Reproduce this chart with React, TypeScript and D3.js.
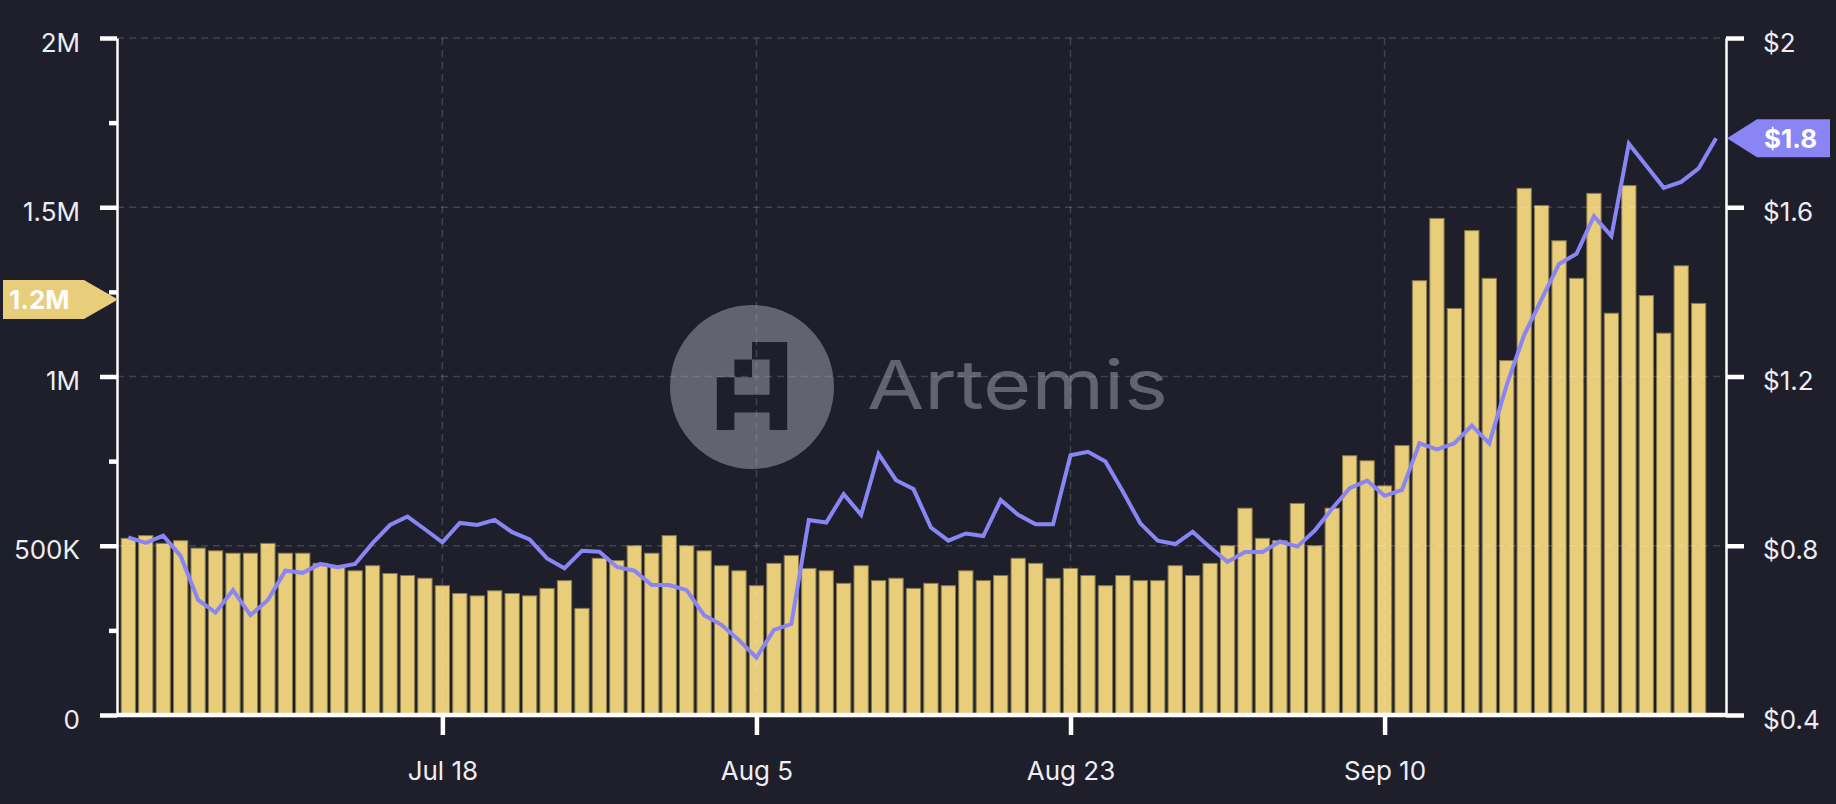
import * as d3 from "d3";
import { useEffect, useRef } from "react";

const START_DATE = "2024-06-30";

// daily volume, Jun 30 - Sep 28
const volume = [
  522000, 530000, 507000, 515000, 493000, 485000, 478000, 478000, 507000, 478000,
  478000, 448000, 441000, 426000, 441000, 418000, 412000, 404000, 382000, 359000,
  352000, 367000, 359000, 352000, 374000, 397000, 315000, 463000, 456000, 500000,
  478000, 530000, 500000, 485000, 441000, 426000, 382000, 448000, 471000, 433000,
  426000, 389000, 441000, 397000, 404000, 374000, 389000, 382000, 426000, 397000,
  412000, 463000, 448000, 404000, 433000, 412000, 382000, 412000, 397000, 397000,
  441000, 412000, 448000, 500000, 611000, 522000, 515000, 625000, 500000, 611000,
  766000, 751000, 677000, 796000, 1283000, 1467000, 1201000, 1431000, 1290000, 1047000,
  1556000, 1505000, 1401000, 1290000, 1541000, 1187000, 1564000, 1239000, 1128000, 1327000,
  1216000,
];

// daily price, Jun 30 - Sep 29
const price = [
  0.82, 0.807, 0.824, 0.776, 0.672, 0.642, 0.695, 0.636, 0.672, 0.741,
  0.736, 0.757, 0.749, 0.757, 0.806, 0.849, 0.869, 0.839, 0.808, 0.854,
  0.849, 0.861, 0.832, 0.815, 0.77, 0.747, 0.788, 0.786, 0.75, 0.741,
  0.707, 0.707, 0.695, 0.636, 0.613, 0.577, 0.536, 0.601, 0.615, 0.861,
  0.855, 0.922, 0.873, 1.017, 0.955, 0.934, 0.843, 0.812, 0.829, 0.823,
  0.908, 0.873, 0.851, 0.851, 1.014, 1.022, 0.999, 0.928, 0.853, 0.812,
  0.804, 0.833, 0.796, 0.762, 0.785, 0.785, 0.81, 0.798, 0.836, 0.888,
  0.936, 0.954, 0.918, 0.932, 1.042, 1.028, 1.042, 1.084, 1.042, 1.18,
  1.298, 1.383, 1.466, 1.49, 1.579, 1.532, 1.75, 1.698, 1.646, 1.66,
  1.692, 1.763,
];

const X_TICKS = ["2024-07-18", "2024-08-05", "2024-08-23", "2024-09-10"];
const VOL_TICKS = [0, 500000, 1000000, 1500000, 2000000];
const VOL_TICK_LABELS = ["0", "500K", "1M", "1.5M", "2M"];
const VOL_MINOR_TICKS = [250000, 750000, 1250000, 1750000];
const PRICE_TICKS = [0.4, 0.8, 1.2, 1.6, 2];
const PRICE_TICK_LABELS = ["$0.4", "$0.8", "$1.2", "$1.6", "$2"];

// pixel "A" of the watermark logo (1 = cut out)
const LOGO = [
  [0, 0, 1, 1],
  [0, 1, 0, 1],
  [1, 0, 0, 1],
  [1, 1, 1, 1],
  [1, 0, 0, 1],
];

const W = 1836;
const H = 804;
const BG = "#1e1f2a";
const GOLD = "#e8cd7a";
const PURPLE = "#8985f4";
const FONT = "Inter, 'Noto Sans', sans-serif";

const App = () => {
  const svgRef = useRef<SVGSVGElement | null>(null);

  useEffect(() => {
    if (!svgRef.current) return;
    const svg = d3.select(svgRef.current);
    svg.selectAll("*").remove();

    const left = 117, right = 1726, top = 38, bottom = 715;
    const parse = d3.utcParse("%Y-%m-%d");
    const start = parse(START_DATE)!;
    const dates = price.map((_, i) => d3.utcDay.offset(start, i));

    const x = d3.scaleUtc()
      .domain([dates[0], dates[dates.length - 1]])
      .range([left + 11.3, right - 9.9]);
    const yVol = d3.scaleLinear().domain([0, 2000000]).range([bottom, top]);
    const yPrice = d3.scaleLinear().domain([0.4, 2]).range([bottom, top]);
    const step = x(dates[1]) - x(dates[0]);
    const barW = step * 0.875;

    svg.append("rect").attr("width", W).attr("height", H).attr("fill", BG);

    // bars
    svg.append("g")
      .selectAll("rect")
      .data(volume)
      .join("rect")
      .attr("x", (_, i) => x(dates[i]) - barW / 2 + 0.5)
      .attr("y", d => yVol(d))
      .attr("width", barW - 1)
      .attr("height", d => bottom - yVol(d))
      .attr("fill", GOLD)
      .attr("stroke", "#8a7a4a")
      .attr("stroke-width", 1);

    // grid
    const grid = svg.append("g")
      .attr("stroke", "rgba(255,255,255,0.16)")
      .attr("stroke-width", 1.5)
      .attr("stroke-dasharray", "7 5");
    grid.selectAll("line.h")
      .data(VOL_TICKS.slice(1))
      .join("line")
      .attr("x1", left).attr("x2", right)
      .attr("y1", d => yVol(d)).attr("y2", d => yVol(d));
    grid.selectAll("line.v")
      .data(X_TICKS.map(d => parse(d)!))
      .join("line")
      .attr("x1", d => x(d)).attr("x2", d => x(d))
      .attr("y1", top).attr("y2", bottom);

    // watermark
    const cx = 752, cy = 387, r = 82, cell = 17.6;
    const ox = cx - cell * 2, oy = cy - cell * 2.5 - 1;
    let d = `M${cx + r},${cy}A${r},${r} 0 1 0 ${cx - r},${cy}A${r},${r} 0 1 0 ${cx + r},${cy}Z`;
    LOGO.forEach((row, ri) => row.forEach((v, ci) => {
      if (v) d += `M${ox + ci * cell},${oy + ri * cell}h${cell}v${cell}h${-cell}Z`;
    }));
    const wm = "rgba(168,168,182,0.5)";
    svg.append("path").attr("d", d).attr("fill", wm).attr("fill-rule", "evenodd");
    svg.append("text")
      .attr("x", 867).attr("y", 409)
      .attr("font-family", FONT).attr("font-size", 68)
      .attr("textLength", 301).attr("lengthAdjust", "spacingAndGlyphs")
      .attr("fill", wm)
      .text("Artemis");

    // price line
    const line = d3.line<number>()
      .x((_, i) => x(dates[i]))
      .y(v => yPrice(v));
    svg.append("path")
      .datum(price)
      .attr("fill", "none")
      .attr("stroke", PURPLE)
      .attr("stroke-width", 4)
      .attr("d", line);

    const styleAxis = (g: d3.Selection<SVGGElement, unknown, null, undefined>) => {
      g.attr("font-family", FONT).attr("font-size", 26).attr("color", "#ffffff");
      g.selectAll(".tick line").attr("stroke-width", 4.5);
      g.selectAll(".tick text").attr("fill", "#ededf2");
    };

    // left axis
    const gl = svg.append("g").attr("transform", `translate(${left},0)`)
      .call(d3.axisLeft(yVol).tickValues(VOL_TICKS)
        .tickFormat((_, i) => VOL_TICK_LABELS[i]).tickSize(17).tickSizeOuter(0).tickPadding(20));
    styleAxis(gl);
    gl.select(".domain").attr("stroke-width", 2.5);
    gl.selectAll(".tick text").attr("dy", "0.5em");
    const glm = svg.append("g").attr("transform", `translate(${left},0)`)
      .call(d3.axisLeft(yVol).tickValues(VOL_MINOR_TICKS).tickFormat(() => "").tickSize(8).tickSizeOuter(0));
    glm.select(".domain").remove();
    styleAxis(glm);

    // right axis
    const gr = svg.append("g").attr("transform", `translate(${right},0)`)
      .call(d3.axisRight(yPrice).tickValues(PRICE_TICKS)
        .tickFormat((_, i) => PRICE_TICK_LABELS[i]).tickSize(18).tickSizeOuter(0).tickPadding(19));
    styleAxis(gr);
    gr.select(".domain").attr("stroke-width", 2.5);
    gr.selectAll(".tick text").attr("dy", "0.5em");

    // bottom axis
    const gb = svg.append("g").attr("transform", `translate(0,${bottom})`)
      .call(d3.axisBottom(x).tickValues(X_TICKS.map(t => parse(t)!))
        .tickFormat(d3.utcFormat("%b %-d") as any).tickSize(20).tickSizeOuter(0).tickPadding(26.5));
    styleAxis(gb);
    gb.select(".domain").remove();
    svg.append("line")
      .attr("x1", left).attr("x2", right)
      .attr("y1", bottom).attr("y2", bottom)
      .attr("stroke", "#ffffff").attr("stroke-width", 4.5);

    // last value labels
    const lastVol = volume[volume.length - 1];
    const vy = yVol(lastVol) - 4;
    svg.append("polygon")
      .attr("points", [[3, vy - 19.5], [84, vy - 19.5], [left + 1, vy], [84, vy + 19.5], [3, vy + 19.5]].join(" "))
      .attr("fill", GOLD);
    svg.append("text")
      .attr("x", 9).attr("y", vy).attr("dy", "0.36em")
      .attr("font-family", FONT).attr("font-size", 26).attr("font-weight", 700)
      .attr("fill", "#ffffff")
      .text(d3.format(".2s")(lastVol));

    const lastPrice = price[price.length - 1];
    const py = yPrice(lastPrice);
    svg.append("polygon")
      .attr("points", [[right + 1, py], [1757, py - 19], [1830, py - 19], [1830, py + 19], [1757, py + 19]].join(" "))
      .attr("fill", PURPLE);
    svg.append("text")
      .attr("x", 1764).attr("y", py).attr("dy", "0.36em")
      .attr("font-family", FONT).attr("font-size", 26).attr("font-weight", 700)
      .attr("fill", "#ffffff")
      .text(d3.format("$.1f")(lastPrice));
  }, []);

  return (
    <svg
      ref={svgRef}
      width={W}
      height={H}
      style={{ position: "absolute", left: 0, top: 0, display: "block" }}
    />
  );
};

export default App;
